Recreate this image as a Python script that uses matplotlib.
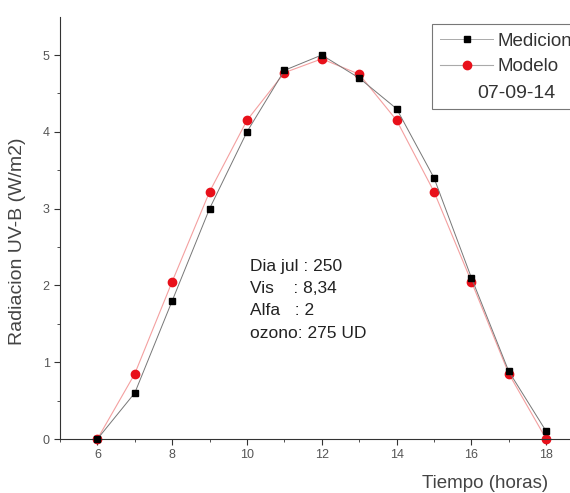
import matplotlib

matplotlib.use("Agg")
import matplotlib.pyplot as plt
from matplotlib.ticker import MultipleLocator

plt.rcParams["font.family"] = ["Liberation Sans", "DejaVu Sans"]

horas = [6, 7, 8, 9, 10, 11, 12, 13, 14, 15, 16, 17, 18]
medicion = [0.0, 0.6, 1.8, 3.0, 4.0, 4.8, 5.0, 4.7, 4.3, 3.4, 2.1, 0.88, 0.1]
modelo = [0.0, 0.85, 2.05, 3.22, 4.15, 4.77, 4.95, 4.75, 4.15, 3.22, 2.05, 0.85, 0.0]
fecha = "07-09-14"
info = ["Dia jul : 250", "Vis    : 8,34", "Alfa   : 2", "ozono: 275 UD"]

W, H = 570, 493
fig = plt.figure(figsize=(W / 100, H / 100), dpi=100)
ax = fig.add_axes([60 / W, 1 - 439 / H, 1 - 60 / W, 422 / H])

ax.plot(horas, medicion, "-", color="#777777", linewidth=0.7, marker="s",
        markersize=5, markerfacecolor="black", markeredgecolor="black",
        label="Medicion", clip_on=False, zorder=3)
ax.plot(horas, modelo, "-", color="#f4a0a0", linewidth=0.8, marker="o",
        markersize=6, markerfacecolor="#e8101a", markeredgecolor="#e8101a",
        label="Modelo", clip_on=False, zorder=2)
ax.plot([], [], " ", label=" ")

ax.set_xlim(5, 5 + 510 / 37.4)
ax.set_ylim(0, 422 / 76.8)
ax.xaxis.set_major_locator(MultipleLocator(2))
ax.xaxis.set_minor_locator(MultipleLocator(1))
ax.yaxis.set_major_locator(MultipleLocator(1))
ax.yaxis.set_minor_locator(MultipleLocator(0.5))
ax.tick_params(which="both", direction="out", colors="#333333", labelsize=9,
               labelcolor="#555555")
ax.tick_params(which="major", length=4)
ax.tick_params(which="minor", length=2.5)
for side in ("top", "right"):
    ax.spines[side].set_visible(False)
ax.spines["left"].set_color("#333333")
ax.spines["bottom"].set_color("#333333")

fig.text(18 / W, 1 - 241 / H, "Radiacion UV-B (W/m2)", fontsize=14, color="#444444",
         rotation=90, ha="center", va="center")
fig.text(485 / W, 1 - 483 / H, "Tiempo (horas)", fontsize=13.5, color="#444444",
         ha="center", va="center")

# legend box runs past the right edge, as in the original
leg = ax.legend(loc="upper left",
                bbox_to_anchor=((432 - 60) / 510, (439 - 110) / 422, 170 / 510, 86 / 422),
                mode="expand", borderaxespad=0, fontsize=13.5, frameon=True,
                fancybox=False, edgecolor="#555555", handlelength=2.8,
                borderpad=0.45, labelspacing=0.45, handletextpad=0.25)
leg.get_frame().set_linewidth(0.8)
for t in leg.get_texts():
    t.set_color("#333333")
for h in leg.legend_handles:
    h.set_color("#aaaaaa")
leg.legend_handles[0].set_markerfacecolor("black")
leg.legend_handles[0].set_markeredgecolor("black")
leg.legend_handles[1].set_markerfacecolor("#e8101a")
leg.legend_handles[1].set_markeredgecolor("#e8101a")
fig.text(516 / W, 1 - 93 / H, fecha, fontsize=14, color="#333333",
         ha="center", va="center")

fig.text(250 / W, 1 - 259 / H, "\n".join(info), fontsize=12.5, color="#222222",
         ha="left", va="top", linespacing=1.6)

fig.savefig("out.png", dpi=100)
